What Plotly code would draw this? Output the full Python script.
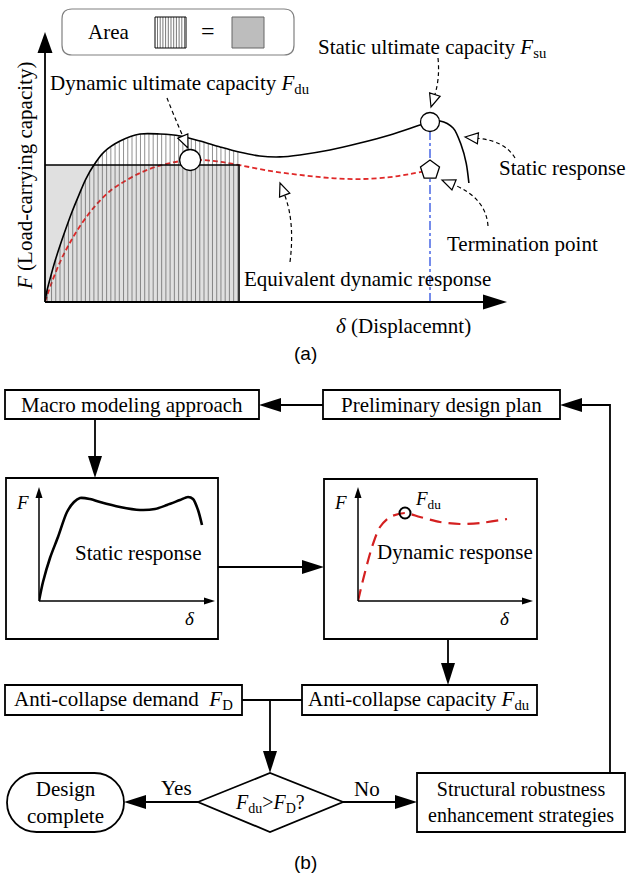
import numpy as np
import plotly.graph_objects as go

W, H = 629, 878
SERIF = "Liberation Serif"
SANS = "Liberation Sans"
FS = 21

# ---------------- (a) load-displacement curves ----------------
delta_static = [0, 0.05, 0.13, 0.23, 0.36, 0.52, 0.70, 0.88, 1.06, 1.27, 1.53, 1.95, 2.47,
                2.99, 3.51, 4.03, 4.55, 5.04, 5.58, 6.10, 6.62, 7.40, 8.18, 8.96, 9.74,
                10.0, 10.26, 10.60, 10.81, 10.94, 11.01]
F_static = [0, 0.61, 1.28, 2.06, 2.94, 3.94, 5.0, 5.94, 6.83, 7.61, 8.33, 8.94, 9.33,
            9.33, 9.22, 8.94, 8.61, 8.33, 8.11, 8.06, 8.17, 8.44, 8.83, 9.28, 9.83,
            10.0, 10.06, 9.67, 8.72, 7.72, 6.61]
delta_dynamic = [0, 0.18, 0.39, 0.60, 0.91, 1.30, 1.69, 2.08, 2.47, 2.86, 3.25, 3.77,
                 4.42, 5.04, 5.84, 6.62, 7.40, 8.18, 8.96, 9.48, 10.0]
F_dynamic = [0, 1.11, 2.22, 3.11, 4.22, 5.33, 6.17, 6.72, 7.17, 7.5, 7.72, 7.89,
             7.83, 7.61, 7.28, 7.06, 6.89, 6.83, 6.94, 7.11, 7.33]

area_delta = 5.04      # displacement bounding the equal-area rectangle
area_F = 7.61          # height of the equal-area rectangle
Fdu_delta, Fdu_value = 3.77, 7.89
Fsu_delta, Fsu_value = 10.0, 10.0
term_delta, term_F = 10.0, 7.33

# ---------------- (b) small sketches in the flowchart ----------------
mini_static_delta = [0, 0.4, 1.1, 1.9, 2.8, 3.5, 4.1, 5.1, 6.1, 8.1, 10.1, 11.6, 12.8,
                     14.1, 14.9, 15.4, 15.9, 16.3]
mini_static_F = [0, 1.9, 4.3, 6.4, 8.9, 9.9, 10.3, 10.2, 9.9, 9.4, 9.1, 9.2, 9.6,
                 10.1, 10.4, 10.2, 9.1, 7.6]
mini_dyn_delta = [0, 0.5, 1.4, 2.2, 3.2, 4.7, 6.2, 8.2, 10.2, 12.2, 14.9]
mini_dyn_F = [0, 2.1, 5.4, 7.4, 8.4, 8.8, 8.4, 7.9, 7.7, 7.8, 8.2]
mini_Fdu_delta, mini_Fdu_value = 4.7, 8.8


def P(x, y):
    return f"{x / W:.5f},{1 - y / H:.5f}"


shapes = []
annotations = []


def polyline(pts, width=1.8, color="black", dash=None, layer="above"):
    d = "M " + " L ".join(P(*p) for p in pts)
    ln = dict(color=color, width=width)
    if dash:
        ln["dash"] = dash
    shapes.append(dict(type="path", path=d, xref="paper", yref="paper",
                       line=ln, layer=layer))


def head(tip, frm, L, Wd, fill="black", lw=0, color="black"):
    tx, ty = tip
    dx, dy = tx - frm[0], ty - frm[1]
    n = np.hypot(dx, dy)
    ux, uy = dx / n, dy / n
    bx, by = tx - ux * L, ty - uy * L
    nx, ny = -uy, ux
    p1 = (bx + nx * Wd / 2, by + ny * Wd / 2)
    p2 = (bx - nx * Wd / 2, by - ny * Wd / 2)
    d = f"M {P(tx, ty)} L {P(*p1)} L {P(*p2)} Z"
    shapes.append(dict(type="path", path=d, xref="paper", yref="paper",
                       fillcolor=fill, line=dict(color=color, width=lw), layer="above"))
    return (bx, by)


def arrow(pts, L=22, Wd=14, width=1.8):
    base = head(pts[-1], pts[-2], L, Wd)
    polyline(list(pts[:-1]) + [base], width=width)


def leader(start, ctrl, tip, L=13, Wd=11):
    # dashed curved pointer ending in an open triangle
    base = head(tip, ctrl, L, Wd, fill="white", lw=1.2)
    d = f"M {P(*start)} Q {P(*ctrl)} {P(*base)}"
    shapes.append(dict(type="path", path=d, xref="paper", yref="paper",
                       line=dict(color="black", width=1.2, dash="4px,3px"), layer="above"))


def box(x0, y0, x1, y1, width=1.8):
    shapes.append(dict(type="rect", x0=x0 / W, x1=x1 / W, y0=1 - y1 / H, y1=1 - y0 / H,
                       xref="paper", yref="paper", line=dict(color="black", width=width),
                       fillcolor="rgba(0,0,0,0)", layer="above"))


def text(x, y, s, size=FS, anchor="center", family=SERIF, angle=0):
    annotations.append(dict(x=x / W, y=1 - y / H, xref="paper", yref="paper", text=s,
                            showarrow=False, xanchor=anchor, yanchor="middle",
                            textangle=angle,
                            font=dict(family=family, size=size, color="black")))


fig = go.Figure()

# equal-area rectangle (grey) and hatched area under the static curve
fig.add_trace(go.Scatter(x=[0, 0, area_delta, area_delta, 0], y=[0, area_F, area_F, 0, 0],
                         fill="toself", fillcolor="#e0e0e0", line=dict(width=0),
                         mode="lines", hoverinfo="skip"))
# equivalent dynamic response
fig.add_trace(go.Scatter(x=delta_dynamic, y=F_dynamic, mode="lines",
                         line=dict(color="#e02828", width=1.8, dash="5px,3px",
                                   shape="spline", smoothing=1.0),
                         cliponaxis=False, hoverinfo="skip"))
hx, hy = [], []
for d in np.arange(0.06, area_delta, 0.11):
    top = float(np.interp(d, delta_static, F_static))
    hx += [d, d, None]
    hy += [0, top, None]
fig.add_trace(go.Scatter(x=hx, y=hy, mode="lines",
                         line=dict(color="rgba(80,80,80,0.7)", width=0.9),
                         hoverinfo="skip"))
# outline of the rectangle
fig.add_trace(go.Scatter(x=[0, area_delta, area_delta], y=[area_F, area_F, 0], mode="lines",
                         line=dict(color="black", width=1.5), cliponaxis=False,
                         hoverinfo="skip"))
# static response
fig.add_trace(go.Scatter(x=delta_static, y=F_static, mode="lines",
                         line=dict(color="black", width=1.6, shape="spline", smoothing=0.9),
                         cliponaxis=False, hoverinfo="skip"))
# termination line
fig.add_trace(go.Scatter(x=[Fsu_delta, Fsu_delta], y=[0, Fsu_value], mode="lines",
                         line=dict(color="#2b4fe0", width=1.3, dash="dashdot"),
                         cliponaxis=False, hoverinfo="skip"))
# key points
fig.add_trace(go.Scatter(x=[Fdu_delta], y=[Fdu_value], mode="markers",
                         marker=dict(symbol="circle", size=21, color="white",
                                     line=dict(color="black", width=1.3)),
                         cliponaxis=False, hoverinfo="skip"))
fig.add_trace(go.Scatter(x=[Fsu_delta], y=[Fsu_value], mode="markers",
                         marker=dict(symbol="circle", size=19, color="white",
                                     line=dict(color="black", width=1.3)),
                         cliponaxis=False, hoverinfo="skip"))
fig.add_trace(go.Scatter(x=[term_delta], y=[term_F], mode="markers",
                         marker=dict(symbol="pentagon", size=20, color="white",
                                     line=dict(color="black", width=1.3)),
                         cliponaxis=False, hoverinfo="skip"))

# flowchart sketches
fig.add_trace(go.Scatter(x=mini_static_delta, y=mini_static_F, xaxis="x2", yaxis="y2",
                         mode="lines", cliponaxis=False, hoverinfo="skip",
                         line=dict(color="black", width=2.6, shape="spline", smoothing=0.8)))
fig.add_trace(go.Scatter(x=mini_dyn_delta, y=mini_dyn_F, xaxis="x3", yaxis="y3",
                         mode="lines", cliponaxis=False, hoverinfo="skip",
                         line=dict(color="#d42020", width=2.2, dash="12px,7px",
                                   shape="spline", smoothing=0.8)))
fig.add_trace(go.Scatter(x=[mini_Fdu_delta], y=[mini_Fdu_value], xaxis="x3", yaxis="y3",
                         mode="markers", cliponaxis=False, hoverinfo="skip",
                         marker=dict(symbol="circle", size=11, color="rgba(0,0,0,0)",
                                     line=dict(color="black", width=2))))

# ---------------- axes of (a) ----------------
arrow([(45, 302), (45, 32)], L=21, Wd=15, width=1.8)
arrow([(45, 302), (507, 302)], L=24, Wd=15, width=1.8)
text(25, 176, "<i>F</i> (Load-carrying capacity)", angle=-90)
text(403, 326, "<i>δ</i> (Displacemnt)")

# legend box
bx0, by0, bx1, by1, r = 62, 9, 294, 55, 10
legend_path = (f"M {P(bx0 + r, by0)} L {P(bx1 - r, by0)} Q {P(bx1, by0)} {P(bx1, by0 + r)} "
               f"L {P(bx1, by1 - r)} Q {P(bx1, by1)} {P(bx1 - r, by1)} "
               f"L {P(bx0 + r, by1)} Q {P(bx0, by1)} {P(bx0, by1 - r)} "
               f"L {P(bx0, by0 + r)} Q {P(bx0, by0)} {P(bx0 + r, by0)} Z")
shapes.append(dict(type="path", path=legend_path, xref="paper", yref="paper",
                   line=dict(color="#808080", width=1.2), layer="above"))
text(108, 32, "Area")
for i in range(11):
    xx = 157.5 + i * 2.7
    polyline([(xx, 17), (xx, 48)], width=0.8, color="#555")
box(155, 17, 186, 48, width=1.0)
text(208, 31, "=", size=24)
shapes.append(dict(type="rect", x0=232 / W, x1=264 / W, y0=1 - 48 / H, y1=1 - 17 / H,
                   xref="paper", yref="paper", fillcolor="#bdbdbd",
                   line=dict(color="#666", width=1.0), layer="above"))

# callouts of (a)
text(48, 84, "Dynamic ultimate capacity <i>F</i><sub>du</sub>", anchor="left")
leader((167, 98), (174, 116), (188, 148))
text(316, 48, "Static ultimate capacity <i>F</i><sub>su</sub>", anchor="left")
leader((438, 58), (440, 78), (431, 107))
text(497, 168, "Static response", anchor="left")
leader((515, 158), (505, 141), (465, 137))
text(445, 244, "Termination point", anchor="left")
leader((488, 226), (486, 198), (442, 180))
text(242, 279, "Equivalent dynamic response", anchor="left")
leader((290, 262), (295, 222), (280, 183))
text(305, 353, "(a)", size=19, family=SANS)

# ---------------- flowchart (b) ----------------
box(5, 390, 259, 419)
text(132, 405, "Macro modeling approach")
box(323, 390, 560, 419)
text(441, 405, "Preliminary design plan")
arrow([(323, 405), (259, 405)])
arrow([(95, 419), (95, 478)])

box(6, 478, 218, 639)
arrow([(39, 601), (39, 487)], L=11, Wd=7, width=1.5)
arrow([(39, 601), (215, 601)], L=11, Wd=7, width=1.5)
text(22, 502, "<i>F</i>", size=19)
text(190, 618, "<i>δ</i>", size=19)
text(138, 553, "Static response")

box(324, 479, 537, 639)
arrow([(358, 601), (358, 487)], L=11, Wd=7, width=1.5)
arrow([(358, 601), (533, 601)], L=11, Wd=7, width=1.5)
text(340, 502, "<i>F</i>", size=19)
text(505, 618, "<i>δ</i>", size=19)
text(413, 500, "<i>F</i><sub>du</sub>", size=19, anchor="left")
text(455, 552, "Dynamic response")

arrow([(218, 567), (324, 567)])
arrow([(448, 639), (448, 685)])

box(5, 685, 242, 715)
text(123, 700, "Anti-collapse demand  <i>F</i><sub>D</sub>")
box(302, 685, 537, 715)
text(419, 700, "Anti-collapse capacity <i>F</i><sub>du</sub>")
polyline([(242, 700), (302, 700)])
arrow([(270, 700), (270, 773)])

# decision diamond
shapes.append(dict(type="path", xref="paper", yref="paper", layer="above",
                   path=f"M {P(198, 802)} L {P(270, 773)} L {P(343, 802)} L {P(270, 832)} Z",
                   line=dict(color="black", width=1.8)))
text(270, 803, "<i>F</i><sub>du</sub>><i>F</i><sub>D</sub>?", size=20)

# terminal
k = 0.5523
rr, cy, xl, xr = 29.5, 802.5, 36.5, 94.5
term_path = (f"M {P(xl, cy - rr)} L {P(xr, cy - rr)} "
             f"C {P(xr + k * rr, cy - rr)} {P(xr + rr, cy - k * rr)} {P(xr + rr, cy)} "
             f"C {P(xr + rr, cy + k * rr)} {P(xr + k * rr, cy + rr)} {P(xr, cy + rr)} "
             f"L {P(xl, cy + rr)} "
             f"C {P(xl - k * rr, cy + rr)} {P(xl - rr, cy + k * rr)} {P(xl - rr, cy)} "
             f"C {P(xl - rr, cy - k * rr)} {P(xl - k * rr, cy - rr)} {P(xl, cy - rr)} Z")
shapes.append(dict(type="path", path=term_path, xref="paper", yref="paper",
                   line=dict(color="black", width=1.8), layer="above"))
text(65, 802, "Design<br>complete")
arrow([(198, 802), (124, 802)])
text(176, 788, "Yes")

box(417, 773, 625, 832)
text(521, 802, "Structural robustness<br>enhancement strategies", size=20)
arrow([(343, 802), (417, 802)])
text(367, 789, "No")
arrow([(610, 773), (610, 405), (560, 405)])
text(305, 862, "(b)", size=19, family=SANS)

hidden = dict(visible=False, fixedrange=True)
fig.update_layout(
    width=W, height=H, margin=dict(l=0, r=0, t=0, b=0),
    paper_bgcolor="white", plot_bgcolor="rgba(0,0,0,0)", showlegend=False,
    xaxis=dict(domain=[45 / W, 507 / W], range=[0, 12], **hidden),
    yaxis=dict(domain=[1 - 302 / H, 1 - 32 / H], range=[0, 15], **hidden),
    xaxis2=dict(domain=[39 / W, 215 / W], range=[0, 17.6], anchor="y2", **hidden),
    yaxis2=dict(domain=[1 - 601 / H, 1 - 487 / H], range=[0, 11.4], anchor="x2", **hidden),
    xaxis3=dict(domain=[358 / W, 533 / W], range=[0, 17.5], anchor="y3", **hidden),
    yaxis3=dict(domain=[1 - 601 / H, 1 - 487 / H], range=[0, 11.4], anchor="x3", **hidden),
    shapes=shapes, annotations=annotations,
)
fig.write_html("out.html")
